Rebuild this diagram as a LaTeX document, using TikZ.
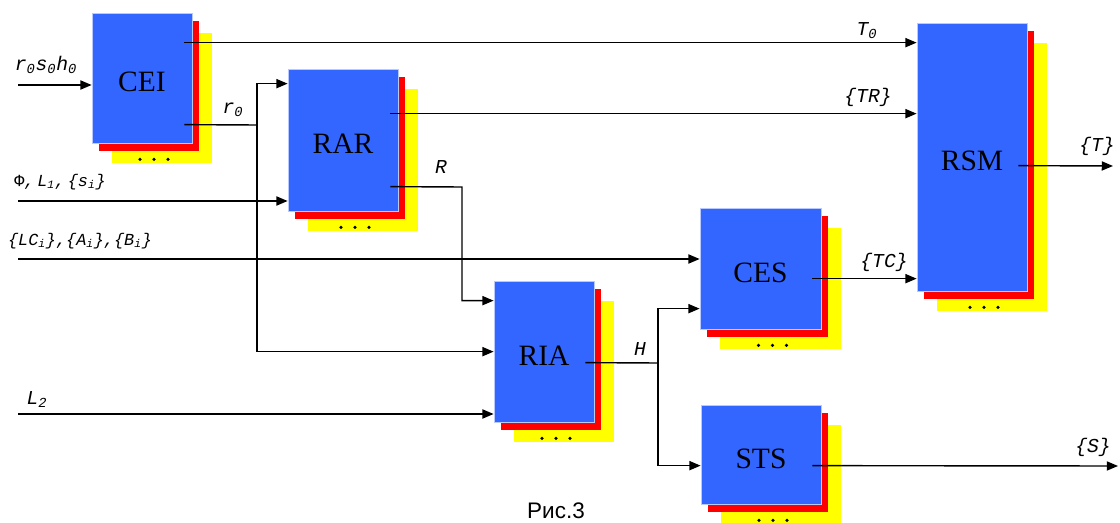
\documentclass[tikz,border=0pt]{standalone}
\usepackage{fontspec}
\setmainfont{Liberation Serif}
\newfontfamily\lblfont{Liberation Mono}
\newfontfamily\capfont{Liberation Sans}
\usetikzlibrary{arrows.meta,calc}
\definecolor{cBlk}{HTML}{3366FF}
\definecolor{cRed}{HTML}{FF0000}
\definecolor{cYel}{HTML}{FFFF00}
\newcommand{\lsb}[1]{\textsubscript{#1}}
\tikzset{
  blk/.style={fill=cBlk,draw=cBlk!35,line width=0.5pt,inner sep=0pt,
    text height=19.5pt,text depth=0pt,font=\fontsize{21}{23}\selectfont},
  lbl/.style={font=\lblfont\itshape\fontsize{14}{16}\selectfont,inner sep=1pt},
  lbls/.style={lbl,font=\lblfont\itshape\fontsize{12}{14}\selectfont},
  ln/.style={line width=1pt},
  arr/.style={ln,-{Triangle[length=8pt,width=6.5pt]}},
}

\begin{document}
\begin{tikzpicture}[x=0.025cm,y=-0.025cm]
  \useasboundingbox (0,0) rectangle (1120,523);
  % blocks: blue sheet in front, red and yellow sheets behind
  \foreach \nm/\xa/\ya/\xb/\yb/\txt in {cei/92/13/192/143/CEI,
      rar/288/69/398/211/RAR, rsm/917/23/1027/291/RSM,
      ria/494/281/594/422/RIA, ces/700/208/821/329/CES,
      sts/701/405/821/504/STS}{
    \fill[cYel] (\xa+20,\ya+20) rectangle (\xb+20,\yb+20);
    \fill[cRed] (\xa+7,\ya+8) rectangle (\xb+7,\yb+8);
    \node[blk,minimum width={(\xb-\xa)*0.025cm},minimum height={(\yb-\ya)*0.025cm}]
      (\nm) at ({(\xa+\xb)/2},{(\ya+\yb)/2}) {\txt};
    \foreach \d in {-14,0,14}
      \fill ($(\nm.south)+(12+\d,16)$) circle (1.3pt);
  }

  % inputs from the left
  \coordinate (in1) at (18,85);
  \coordinate (in2) at (18,201);
  \coordinate (in3) at (18,259);
  \coordinate (in4) at (18,414);
  \draw[arr] (in1) -- (in1 -| cei.west);
  \draw[arr] (in2) -- (in2 -| rar.west);
  \draw[arr] (in3) -- (in3 -| ces.west);
  \draw[arr] (in4) -- (in4 -| ria.west);

  % CEI outputs
  \coordinate (ceiT) at ($(cei.north east)+(-8,30)$);
  \coordinate (ceiR) at ($(cei.north east)+(-8,112)$);
  \coordinate (jr) at (257,125);
  \draw[arr] (ceiT) -- (ceiT -| rsm.west);
  \draw[ln] (ceiR) -- (jr);
  \draw[arr] (jr) |- ($(rar.north west)+(0,15)$);
  \draw[arr] (jr) |- ($(ria.north west)+(0,71)$);

  % RAR outputs
  \coordinate (rarT) at ($(rar.north east)+(-8,45)$);
  \coordinate (rarR) at ($(rar.north east)+(-8,118)$);
  \coordinate (jR) at (462,187);
  \draw[arr] (rarT) -- (rarT -| rsm.west);
  \draw[arr] (rarR) -- (jR) |- ($(ria.north west)+(0,20)$);

  % RIA output H
  \coordinate (riaH) at ($(ria.north east)+(-9,82)$);
  \coordinate (jH) at (658,363);
  \draw[ln] (riaH) -- (jH);
  \draw[arr] (jH) |- ($(ces.north west)+(0,101)$);
  \draw[arr] (jH) |- ($(sts.north west)+(0,61)$);

  % CES, RSM, STS outputs
  \coordinate (cesT) at ($(ces.north east)+(-9,71)$);
  \coordinate (rsmT) at ($(rsm.north east)+(-9,143)$);
  \coordinate (stsS) at ($(sts.north east)+(-9,61)$);
  \coordinate (outT) at (1113,166);
  \coordinate (outS) at (1118,466);
  \draw[arr] (cesT) -- (cesT -| rsm.west);
  \draw[arr] (rsmT) -- (outT);
  \draw[arr] (stsS) -- (outS);

  % labels
  \node[lbl] (lin1) at (46,65) {r\lsb{0}s\lsb{0}h\lsb{0}};
  \node[lbls] (lin2) at (60,182) {{\upshape Φ},\,L\lsb{1},\,\{s\lsb{i}\}};
  \node[lbls] (lin3) at (80,241) {\{LC\lsb{i}\},\{A\lsb{i}\},\{B\lsb{i}\}};
  \node[lbl] (lin4) at (37,400) {L\lsb{2}};
  \node[lbl] (lT0) at (867,31) {T\lsb{0}};
  \node[lbl] (lr0) at (233,110) {r\lsb{0}};
  \node[lbl] (lTR) at (868,97) {\{TR\}};
  \node[lbl] (lR) at (441,167) {R};
  \node[lbl] (lH) at (640,349) {H};
  \node[lbl] (lTC) at (884,262) {\{TC\}};
  \node[lbl] (lT) at (1097,146) {\{T\}};
  \node[lbl] (lS) at (1093,447) {\{S\}};
  \node[font=\capfont\fontsize{16}{18}\selectfont] (cap) at (556,511) {Рис.3};
\end{tikzpicture}
\end{document}
